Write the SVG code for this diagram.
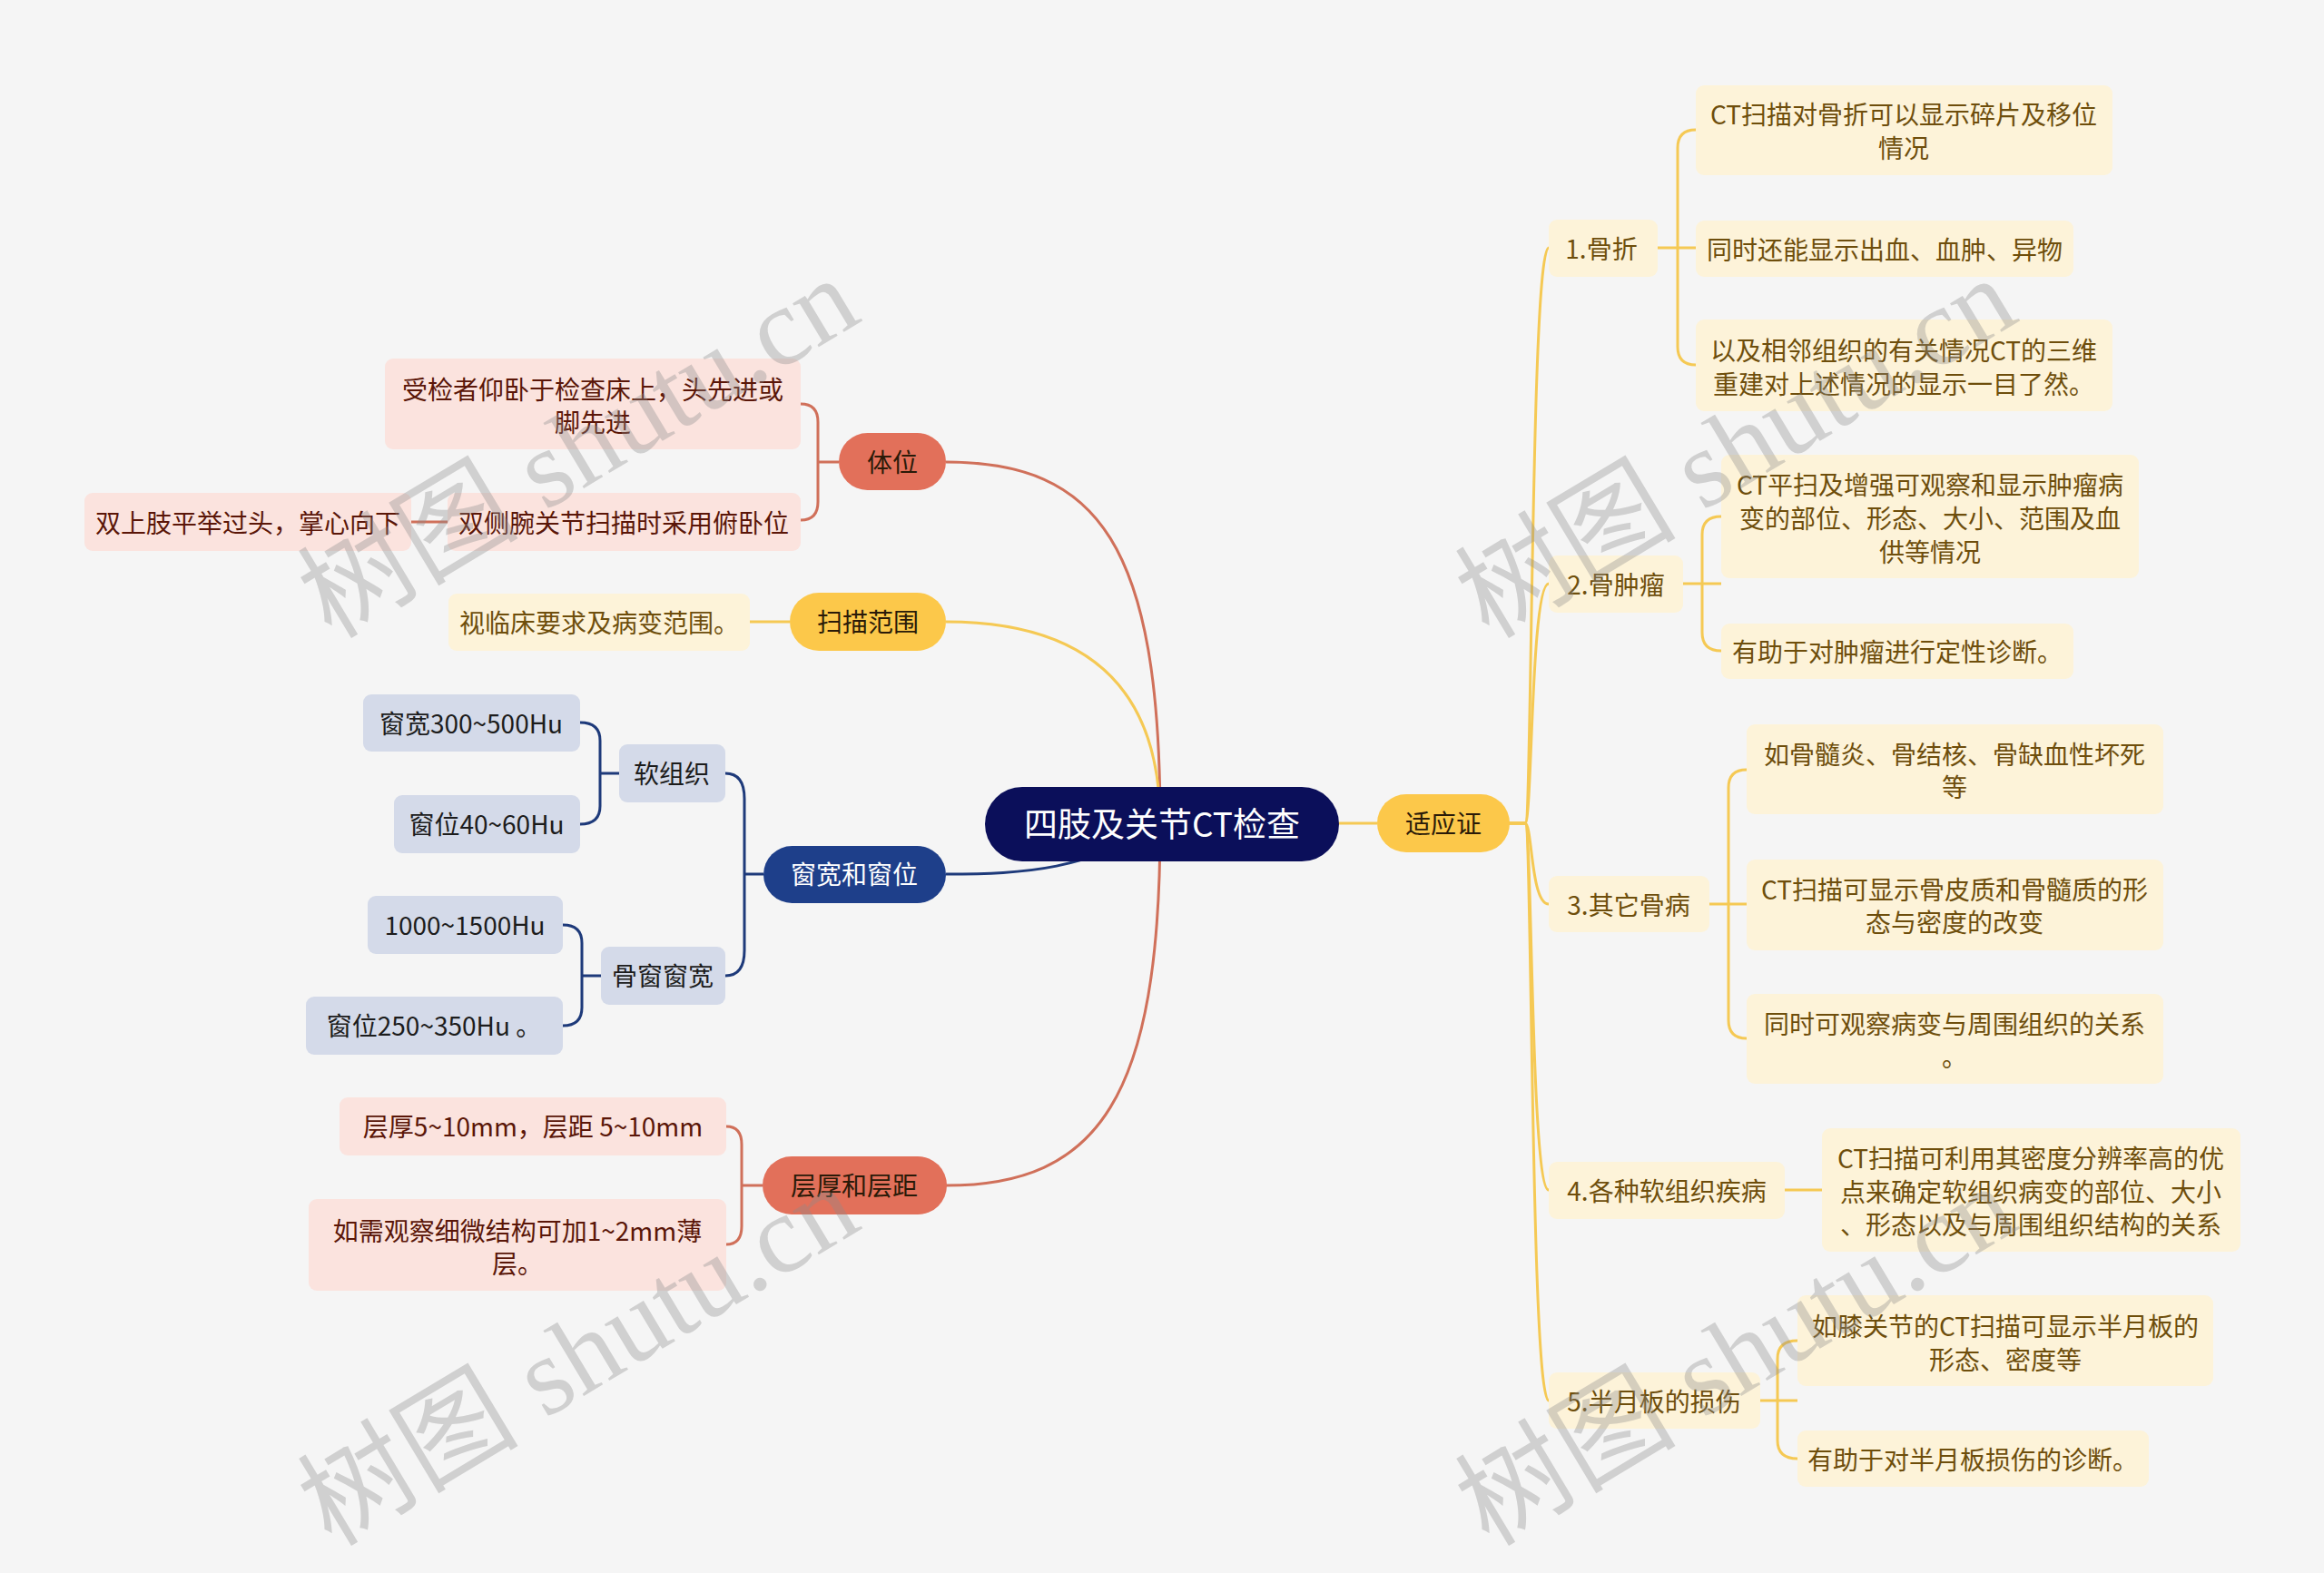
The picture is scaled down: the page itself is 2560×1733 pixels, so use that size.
<svg xmlns="http://www.w3.org/2000/svg" width="2560" height="1733" viewBox="0 0 2560 1733">
<style>
text{font-family:"Noto Sans CJK SC","Noto Sans",sans-serif;dominant-baseline:central;text-anchor:middle}
.t28{font-size:28px}
.cy{fill:#fdf3d9}
.ty{fill:#6e4e0c}
.cp{fill:#fbe3de}
.tp{fill:#5a1608}
.cb{fill:#d4dae9}
.tb{fill:#1c1c1c}
.my{fill:#fcc84a}
.mr{fill:#e2705a}
.tm{fill:#2a1a08}
.ly{stroke:#f5c954;stroke-width:3;fill:none}
.lr{stroke:#d0705a;stroke-width:3;fill:none}
.lb{stroke:#1e3a7a;stroke-width:3;fill:none}
.wm{font-family:"Liberation Serif","Noto Sans CJK SC",serif;font-size:122px;fill:#8c8c8c;opacity:0.35;text-anchor:start;dominant-baseline:auto}
</style>
<rect width="2560" height="1733" fill="#f5f5f5"/>
<g id="connectors">
<path class="lr" d="M1042,509 C1210,509 1278,600 1278,907"/>
<path class="ly" d="M1042,685 C1200,685 1278,760 1278,907"/>
<path class="lb" d="M1042,963 C1130,963 1200,958 1278,907"/>
<path class="lr" d="M1042,1306 C1210,1306 1278,1210 1278,907"/>
<path class="ly" d="M1474,907 H1517"/>
<path class="ly" d="M1662,907 H1680 C1688,907 1686,273 1706,273"/>
<path class="ly" d="M1662,907 H1680 C1688,907 1686,643 1706,643"/>
<path class="ly" d="M1662,907 H1680 C1688,907 1686,996 1706,996"/>
<path class="ly" d="M1662,907 H1680 C1688,907 1686,1311 1706,1311"/>
<path class="ly" d="M1662,907 H1680 C1688,907 1686,1543 1706,1543"/>
<path class="ly" d="M1826,273 H1868 M1868,143 Q1848,143 1848,163 V382 Q1848,402 1868,402"/>
<path class="ly" d="M1854,643 H1896 M1896,569 Q1875,569 1875,589 V697 Q1875,717 1896,717"/>
<path class="ly" d="M1883,996 H1924 M1924,848 Q1904,848 1904,868 V1124 Q1904,1144 1924,1144"/>
<path class="ly" d="M1966,1311 H2007"/>
<path class="ly" d="M1939,1543 H1980 M1980,1477 Q1958,1477 1958,1497 V1587 Q1958,1607 1980,1607"/>
<path class="lr" d="M924,509 H901 M882,445 Q901,445 901,465 V553 Q901,573 882,573"/>
<path class="lr" d="M453,575 H493"/>
<path class="ly" d="M826,685 H870"/>
<path class="lb" d="M841,963 H820 M799,852 Q820,852 820,880 V1047 Q820,1075 799,1075"/>
<path class="lb" d="M682,852 H661 M639,796 Q661,796 661,816 V888 Q661,908 639,908"/>
<path class="lb" d="M662,1075 H641 M620,1019 Q641,1019 641,1039 V1110 Q641,1130 620,1130"/>
<path class="lr" d="M840,1306 H817 M800,1241 Q817,1241 817,1261 V1351 Q817,1371 800,1371"/>
</g>
<g id="center"><rect x="1085" y="867" width="390" height="82" rx="41" fill="#0b0f5a"/><text x="1280" y="906" font-size="37" fill="#ffffff">四肢及关节CT检查</text></g>
<g id="n-syz"><rect x="1517" y="875" width="146" height="64" rx="32" class="my"/><text class="t28 tm" x="1590" y="906">适应证</text></g>
<g id="n-gz"><rect x="1706" y="242" width="120" height="63" rx="9" class="cy"/><text class="t28 ty" x="1764" y="273">1.骨折</text></g>
<g id="n-gz1"><rect x="1868" y="94" width="459" height="99" rx="9" class="cy"/><text class="t28 ty"><tspan x="2097" y="125">CT扫描对骨折可以显示碎片及移位</tspan><tspan x="2097" y="162">情况</tspan></text></g>
<g id="n-gz2"><rect x="1868" y="243" width="416" height="62" rx="9" class="cy"/><text class="t28 ty" x="2076" y="274">同时还能显示出血、血肿、异物</text></g>
<g id="n-gz3"><rect x="1868" y="352" width="459" height="101" rx="9" class="cy"/><text class="t28 ty"><tspan x="2097" y="385">以及相邻组织的有关情况CT的三维</tspan><tspan x="2097" y="422">重建对上述情况的显示一目了然。</tspan></text></g>
<g id="n-gzl"><rect x="1706" y="612" width="148" height="63" rx="9" class="cy"/><text class="t28 ty" x="1780" y="643">2.骨肿瘤</text></g>
<g id="n-gzl1"><rect x="1896" y="501" width="460" height="136" rx="9" class="cy"/><text class="t28 ty"><tspan x="2126" y="533">CT平扫及增强可观察和显示肿瘤病</tspan><tspan x="2126" y="570">变的部位、形态、大小、范围及血</tspan><tspan x="2126" y="607">供等情况</tspan></text></g>
<g id="n-gzl2"><rect x="1896" y="687" width="388" height="61" rx="9" class="cy"/><text class="t28 ty" x="2090" y="717">有助于对肿瘤进行定性诊断。</text></g>
<g id="n-qt"><rect x="1706" y="965" width="177" height="62" rx="9" class="cy"/><text class="t28 ty" x="1794" y="996">3.其它骨病</text></g>
<g id="n-qt1"><rect x="1924" y="798" width="459" height="99" rx="9" class="cy"/><text class="t28 ty"><tspan x="2153" y="830">如骨髓炎、骨结核、骨缺血性坏死</tspan><tspan x="2153" y="866">等</tspan></text></g>
<g id="n-qt2"><rect x="1924" y="947" width="459" height="100" rx="9" class="cy"/><text class="t28 ty"><tspan x="2153" y="979">CT扫描可显示骨皮质和骨髓质的形</tspan><tspan x="2153" y="1015">态与密度的改变</tspan></text></g>
<g id="n-qt3"><rect x="1924" y="1095" width="459" height="99" rx="9" class="cy"/><text class="t28 ty"><tspan x="2153" y="1127">同时可观察病变与周围组织的关系</tspan><tspan x="2153" y="1163">。</tspan></text></g>
<g id="n-rz"><rect x="1706" y="1280" width="260" height="63" rx="9" class="cy"/><text class="t28 ty" x="1836" y="1311">4.各种软组织疾病</text></g>
<g id="n-rz1"><rect x="2007" y="1243" width="461" height="136" rx="9" class="cy"/><text class="t28 ty"><tspan x="2237" y="1275">CT扫描可利用其密度分辨率高的优</tspan><tspan x="2237" y="1312">点来确定软组织病变的部位、大小</tspan><tspan x="2237" y="1348">、形态以及与周围组织结构的关系</tspan></text></g>
<g id="n-by"><rect x="1706" y="1512" width="233" height="62" rx="9" class="cy"/><text class="t28 ty" x="1822" y="1543">5.半月板的损伤</text></g>
<g id="n-by1"><rect x="1980" y="1427" width="458" height="100" rx="9" class="cy"/><text class="t28 ty"><tspan x="2209" y="1460">如膝关节的CT扫描可显示半月板的</tspan><tspan x="2209" y="1497">形态、密度等</tspan></text></g>
<g id="n-by2"><rect x="1980" y="1576" width="387" height="62" rx="9" class="cy"/><text class="t28 ty" x="2173" y="1607">有助于对半月板损伤的诊断。</text></g>
<g id="n-tw"><rect x="924" y="477" width="118" height="63" rx="31.5" class="mr"/><text class="t28 tm" x="983" y="508">体位</text></g>
<g id="n-tw1"><rect x="424" y="395" width="458" height="100" rx="9" class="cp"/><text class="t28 tp"><tspan x="653" y="428">受检者仰卧于检查床上，头先进或</tspan><tspan x="653" y="464">脚先进</tspan></text></g>
<g id="n-tw2"><rect x="493" y="543" width="389" height="64" rx="9" class="cp"/><text class="t28 tp" x="687" y="575">双侧腕关节扫描时采用俯卧位</text></g>
<g id="n-tw3"><rect x="93" y="543" width="360" height="64" rx="9" class="cp"/><text class="t28 tp" x="273" y="575">双上肢平举过头，掌心向下</text></g>
<g id="n-sm"><rect x="870" y="653" width="172" height="64" rx="32" class="my"/><text class="t28 tm" x="956" y="684">扫描范围</text></g>
<g id="n-sm1"><rect x="494" y="654" width="332" height="63" rx="9" class="cy"/><text class="t28 ty" x="660" y="685">视临床要求及病变范围。</text></g>
<g id="n-ck"><rect x="841" y="932" width="201" height="63" rx="31.5" fill="#1e3f8a"/><text class="t28" x="941" y="962" fill="#ffffff">窗宽和窗位</text></g>
<g id="n-rzz"><rect x="682" y="820" width="117" height="64" rx="9" class="cb"/><text class="t28 tb" x="740" y="851">软组织</text></g>
<g id="n-rzz1"><rect x="400" y="765" width="239" height="63" rx="9" class="cb"/><text class="t28 tb" x="519" y="796">窗宽300~500Hu</text></g>
<g id="n-rzz2"><rect x="434" y="876" width="205" height="64" rx="9" class="cb"/><text class="t28 tb" x="536" y="907">窗位40~60Hu</text></g>
<g id="n-gc"><rect x="662" y="1043" width="137" height="64" rx="9" class="cb"/><text class="t28 tb" x="730" y="1074">骨窗窗宽</text></g>
<g id="n-gc1"><rect x="405" y="987" width="215" height="64" rx="9" class="cb"/><text class="t28 tb" x="512" y="1018">1000~1500Hu</text></g>
<g id="n-gc2"><rect x="337" y="1098" width="283" height="64" rx="9" class="cb"/><text class="t28 tb" x="478" y="1129">窗位250~350Hu  。</text></g>
<g id="n-ch"><rect x="840" y="1274" width="203" height="64" rx="32" class="mr"/><text class="t28 tm" x="941" y="1305">层厚和层距</text></g>
<g id="n-ch1"><rect x="374" y="1209" width="426" height="64" rx="9" class="cp"/><text class="t28 tp" x="587" y="1240">层厚5~10mm，层距 5~10mm</text></g>
<g id="n-ch2"><rect x="340" y="1321" width="460" height="101" rx="9" class="cp"/><text class="t28 tp"><tspan x="570" y="1355">如需观察细微结构可加1~2mm薄</tspan><tspan x="570" y="1391">层。</tspan></text></g>
<g id="watermarks">
<text class="wm" transform="translate(365,705) rotate(-31)">树图 shutu.cn</text>
<text class="wm" transform="translate(365,1705) rotate(-31)">树图 shutu.cn</text>
<text class="wm" transform="translate(1640,705) rotate(-31)">树图 shutu.cn</text>
<text class="wm" transform="translate(1640,1705) rotate(-31)">树图 shutu.cn</text>
</g>
</svg>
